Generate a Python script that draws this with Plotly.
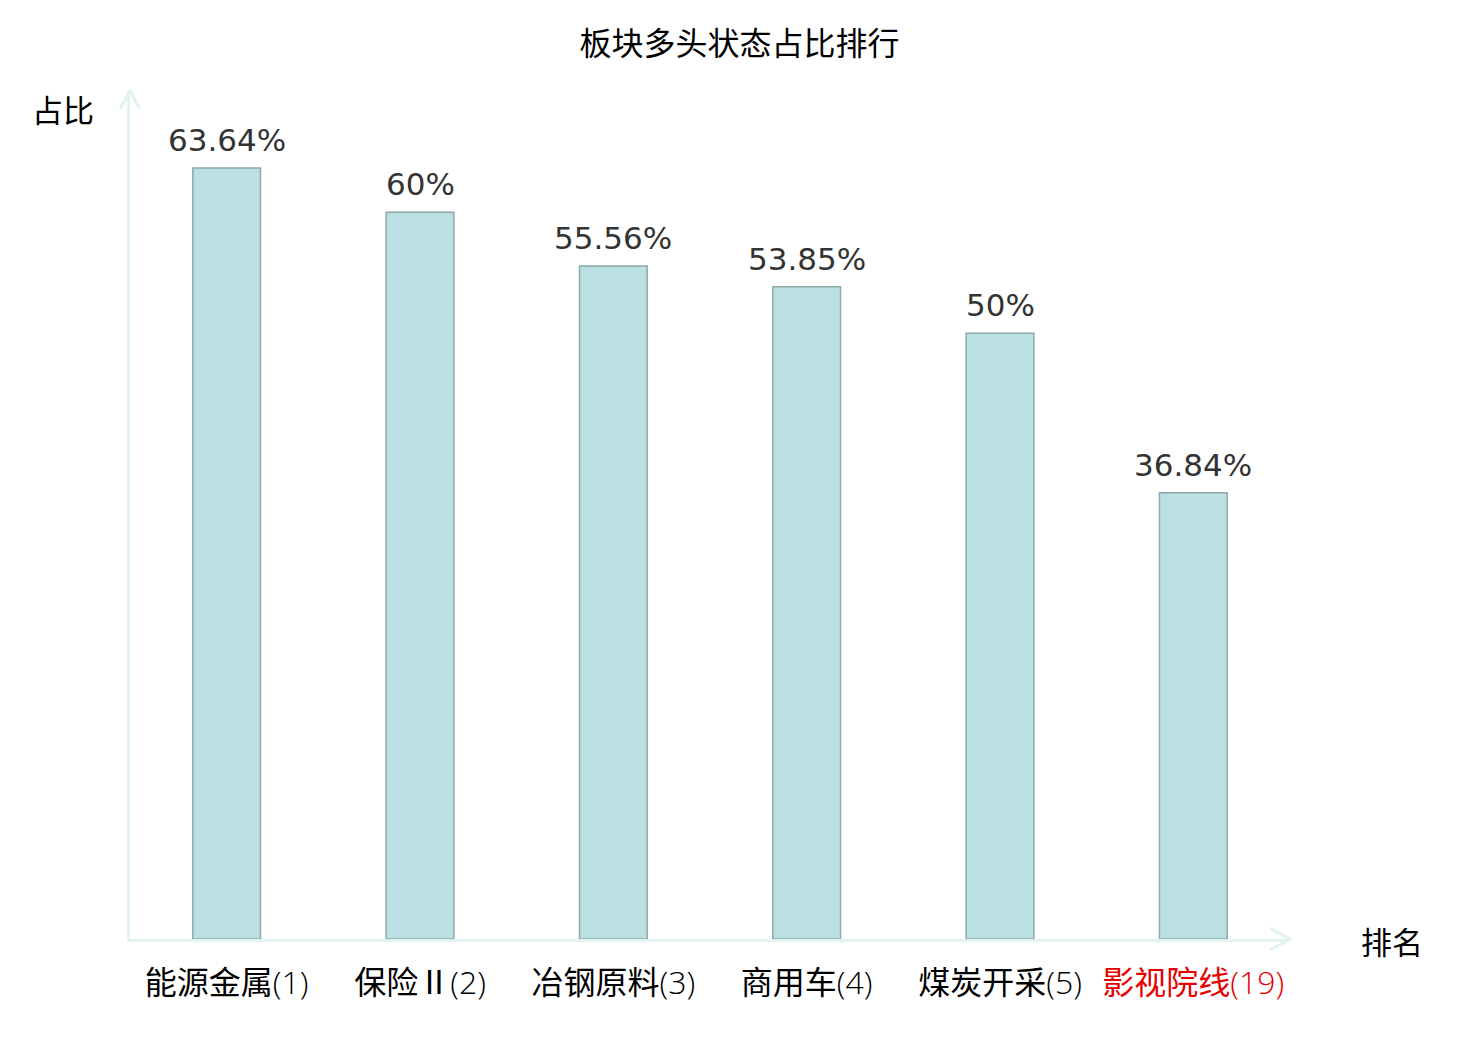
import plotly.graph_objects as go

sectors = ["能源金属", "保险Ⅱ", "冶钢原料", "商用车", "煤炭开采", "影视院线"]
ranks = [1, 2, 3, 4, 5, 19]
shares = [63.64, 60, 55.56, 53.85, 50, 36.84]
share_labels = ["63.64%", "60%", "55.56%", "53.85%", "50%", "36.84%"]
highlight = [False, False, False, False, False, True]

CJK = "Noto Sans CJK SC"
AXIS = "#e0f3f1"

categories = [f"{s}({r})" for s, r in zip(sectors, ranks)]
tick_text = []
for s, r, h in zip(sectors, ranks, highlight):
    t = f'{s}<span style="font-family:\'Open Sans\';font-weight:300">({r})</span>'
    if h:
        t = f'<span style="color:#e60000">{t}</span>'
    tick_text.append(t)

fig = go.Figure()
fig.add_trace(
    go.Bar(
        x=categories,
        y=shares,
        width=0.35,
        marker=dict(color="#bbe0e3", line=dict(color="#8fa8a8", width=1.5)),
        hoverinfo="x+y",
    )
)

# value labels sit a little above each bar
for cat, val, lab in zip(categories, shares, share_labels):
    fig.add_annotation(x=cat, y=val, text=lab, showarrow=False,
                       xanchor="center", yanchor="bottom", yshift=8,
                       font=dict(family="DejaVu Sans", size=31, color="#333333"))

# page body adds ~8px offset, so margins are shifted to compensate
fig.update_layout(
    width=1480,
    height=1040,
    paper_bgcolor="white",
    plot_bgcolor="white",
    margin=dict(l=122, r=198, t=83, b=109),
    title=dict(
        text="板块多头状态占比排行",
        x=0.4943,
        xanchor="center",
        y=0.966,
        yanchor="middle",
        font=dict(family=CJK, size=32, color="#000000"),
    ),
    showlegend=False,
    xaxis=dict(
        tickmode="array",
        tickvals=categories,
        ticktext=tick_text,
        tickfont=dict(family=CJK, size=32, color="#000000"),
        showline=True,
        linecolor=AXIS,
        linewidth=3,
        ticks="",
        ticklabelstandoff=14,
        showgrid=False,
        zeroline=False,
    ),
    yaxis=dict(
        range=[0, 70],
        showticklabels=False,
        showline=True,
        linecolor=AXIS,
        linewidth=3,
        ticks="",
        showgrid=False,
        zeroline=False,
    ),
)

# open arrowheads on both axes
fig.add_shape(type="path", xref="paper", yref="paper",
              path="M 0.9828,0.0125 L 1,0 L 0.9828,-0.0125",
              line=dict(color=AXIS, width=3))
fig.add_shape(type="path", xref="paper", yref="paper",
              path="M -0.0086,0.979 L 0,1 L 0.0086,0.979",
              line=dict(color=AXIS, width=3))

fig.add_annotation(text="占比", xref="paper", yref="paper", x=-0.058, y=0.979,
                   xanchor="center", yanchor="middle", showarrow=False,
                   font=dict(family=CJK, size=31, color="#000000"))
fig.add_annotation(text="排名", xref="paper", yref="paper", x=1.088, y=-0.002,
                   xanchor="center", yanchor="middle", showarrow=False,
                   font=dict(family=CJK, size=31, color="#000000"))

fig.write_html("out.html")
